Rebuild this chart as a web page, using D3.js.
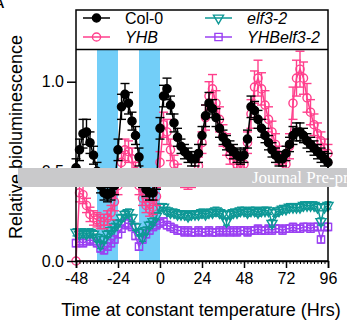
<!DOCTYPE html>
<html>
<head>
<meta charset="utf-8">
<script src="https://cdn.jsdelivr.net/npm/d3@7"></script>
<style>
  body { margin: 0; background: #fff; }
  svg { display: block; font-family: "Liberation Sans", Arial, sans-serif; }
</style>
</head>
<body>
<svg id="chart" width="347" height="322"></svg>
<script>
// hours at constant temperature, every 2 h from -48 to 96
const hours = d3.range(-48, 97, 2)
const xTicks = [-48, -24, 0, 24, 48, 72, 96]
const yTicks = [0, 0.5, 1.0]
const coldBlocks = [[-36, -24], [-12, 0]]

const col0 = [0.52, 0.62, 0.71, 0.72, 0.66, 0.59, 0.50, 0.42, 0.38, 0.37, 0.38, 0.42,
  0.62, 0.86, 0.93, 0.88, 0.78, 0.70, 0.58, 0.45, 0.40, 0.38, 0.38, 0.45,
  0.74, 0.92, 0.96, 0.87, 0.77, 0.69, 0.64, 0.61, 0.59, 0.57, 0.57, 0.60,
  0.70, 0.81, 0.88, 0.85, 0.80, 0.74, 0.69, 0.66, 0.63, 0.61, 0.59, 0.58,
  0.59, 0.68, 0.86, 0.84, 0.79, 0.74, 0.70, 0.66, 0.62, 0.59, 0.57, 0.57,
  0.60, 0.65, 0.70, 0.72, 0.72, 0.70, 0.67, 0.65, 0.63, 0.61, 0.59, 0.57, 0.55]
const col0Err = [0.05, 0.06, 0.08, 0.07, 0.06, 0.05, 0.05, 0.04, 0.04, 0.04, 0.04, 0.05,
  0.06, 0.07, 0.06, 0.06, 0.05, 0.05, 0.05, 0.04, 0.04, 0.04, 0.04, 0.05,
  0.06, 0.06, 0.06, 0.05, 0.05, 0.05, 0.04, 0.04, 0.04, 0.04, 0.04, 0.05,
  0.05, 0.06, 0.06, 0.05, 0.05, 0.05, 0.04, 0.04, 0.04, 0.04, 0.04, 0.04,
  0.04, 0.05, 0.06, 0.05, 0.05, 0.05, 0.04, 0.04, 0.04, 0.04, 0.04, 0.04,
  0.04, 0.04, 0.05, 0.05, 0.05, 0.04, 0.04, 0.04, 0.04, 0.04, 0.04, 0.04, 0.05]

const yhb = [0.00, 0.38, 0.37, 0.31, 0.26, 0.24, 0.23, 0.22, 0.22, 0.24, 0.27, 0.33,
  0.42, 0.55, 0.62, 0.61, 0.57, 0.50, 0.42, 0.35, 0.31, 0.29, 0.30, 0.36,
  0.55, 0.76, 0.72, 0.62, 0.54, 0.49, 0.46, 0.45, 0.44, 0.45, 0.47, 0.53,
  0.66, 0.80, 0.92, 0.96, 0.88, 0.79, 0.70, 0.65, 0.59, 0.56, 0.54, 0.52,
  0.54, 0.66, 0.82, 0.97, 1.02, 0.96, 0.87, 0.79, 0.72, 0.65, 0.59, 0.55,
  0.54, 0.64, 0.88, 1.02, 1.07, 1.02, 0.91, 0.83, 0.76, 0.71, 0.67, 0.63, 0.60]
const yhbErr = [0.00, 0.05, 0.05, 0.04, 0.04, 0.04, 0.04, 0.04, 0.04, 0.04, 0.04, 0.05,
  0.05, 0.06, 0.06, 0.06, 0.06, 0.05, 0.05, 0.04, 0.04, 0.04, 0.04, 0.05,
  0.06, 0.07, 0.07, 0.06, 0.05, 0.05, 0.04, 0.04, 0.04, 0.04, 0.04, 0.05,
  0.06, 0.07, 0.08, 0.08, 0.07, 0.07, 0.06, 0.06, 0.05, 0.05, 0.05, 0.05,
  0.05, 0.06, 0.08, 0.09, 0.10, 0.09, 0.08, 0.07, 0.06, 0.06, 0.05, 0.05,
  0.05, 0.07, 0.09, 0.10, 0.10, 0.09, 0.08, 0.07, 0.06, 0.06, 0.05, 0.05, 0.05]

const elf3 = [0.16, 0.15, 0.16, 0.15, 0.16, 0.15, 0.13, 0.09, 0.12, 0.15, 0.17, 0.19,
  0.21, 0.24, 0.26, 0.27, 0.24, 0.19, 0.16, 0.13, 0.17, 0.20, 0.22, 0.25,
  0.30, 0.30, 0.28, 0.27, 0.27, 0.26, 0.26, 0.26, 0.25, 0.26, 0.26, 0.26,
  0.27, 0.26, 0.27, 0.27, 0.28, 0.27, 0.26, 0.22, 0.26, 0.27, 0.27, 0.28,
  0.28, 0.27, 0.28, 0.28, 0.27, 0.28, 0.28, 0.28, 0.21, 0.27, 0.28, 0.29,
  0.29, 0.30, 0.30, 0.30, 0.30, 0.31, 0.31, 0.31, 0.31, 0.30, 0.22, 0.30, 0.31]
const elf3Err = [0.02, 0.02, 0.02, 0.02, 0.02, 0.02, 0.02, 0.02, 0.02, 0.02, 0.02, 0.02,
  0.02, 0.02, 0.02, 0.02, 0.02, 0.02, 0.02, 0.02, 0.02, 0.02, 0.02, 0.02,
  0.02, 0.02, 0.02, 0.02, 0.02, 0.02, 0.02, 0.02, 0.02, 0.02, 0.02, 0.02,
  0.02, 0.02, 0.02, 0.02, 0.02, 0.02, 0.02, 0.02, 0.02, 0.02, 0.02, 0.02,
  0.02, 0.02, 0.02, 0.02, 0.02, 0.02, 0.02, 0.02, 0.02, 0.02, 0.02, 0.02,
  0.02, 0.02, 0.02, 0.02, 0.02, 0.02, 0.02, 0.02, 0.02, 0.02, 0.02, 0.02, 0.02]

const yhbElf3 = [0.10, 0.11, 0.10, 0.11, 0.12, 0.11, 0.10, 0.07, 0.06, 0.08, 0.10, 0.12,
  0.15, 0.18, 0.21, 0.21, 0.19, 0.14, 0.08, 0.12, 0.15, 0.17, 0.19, 0.20,
  0.21, 0.22, 0.20, 0.19, 0.18, 0.17, 0.17, 0.16, 0.17, 0.16, 0.16, 0.17,
  0.16, 0.16, 0.17, 0.16, 0.16, 0.17, 0.16, 0.17, 0.16, 0.17, 0.16, 0.17,
  0.17, 0.16, 0.17, 0.17, 0.18, 0.17, 0.17, 0.18, 0.17, 0.18, 0.18, 0.17,
  0.18, 0.18, 0.19, 0.18, 0.18, 0.19, 0.19, 0.18, 0.19, 0.19, 0.12, 0.19, 0.19]
const yhbElf3Err = [0.02, 0.02, 0.02, 0.02, 0.02, 0.02, 0.02, 0.02, 0.02, 0.02, 0.02, 0.02,
  0.02, 0.02, 0.03, 0.03, 0.02, 0.02, 0.02, 0.02, 0.02, 0.02, 0.02, 0.02,
  0.02, 0.02, 0.02, 0.02, 0.02, 0.02, 0.02, 0.02, 0.02, 0.02, 0.02, 0.02,
  0.02, 0.02, 0.02, 0.02, 0.02, 0.02, 0.02, 0.02, 0.02, 0.02, 0.02, 0.02,
  0.02, 0.02, 0.02, 0.02, 0.02, 0.02, 0.02, 0.02, 0.02, 0.02, 0.02, 0.02,
  0.02, 0.02, 0.02, 0.02, 0.02, 0.02, 0.02, 0.02, 0.02, 0.02, 0.02, 0.02, 0.02]

const series = [
  { name: 'YHBelf3-2', italic: true, values: yhbElf3, err: yhbElf3Err, color: '#9a40f2', shape: 'square' },
  { name: 'elf3-2', italic: true, values: elf3, err: elf3Err, color: '#0e9896', shape: 'triangle' },
  { name: 'YHB', italic: true, values: yhb, err: yhbErr, color: '#ff3f8c', shape: 'circle' },
  { name: 'Col-0', italic: false, values: col0, err: col0Err, color: '#000000', shape: 'dot' }
]

const width = 347
const height = 322
const margin = { top: 10, right: 19, bottom: 61, left: 76 }

const svg = d3.select('#chart')

const x = d3.scaleLinear().domain([-48, 96]).range([margin.left, width - margin.right])
const y = d3.scaleLinear().domain([0, 1.4]).range([height - margin.bottom, margin.top])
const legendBottom = y(1.18)

// cold / warm blocks
svg.append('g').selectAll('rect')
  .data(coldBlocks)
  .join('rect')
  .attr('x', d => x(d[0]))
  .attr('width', d => x(d[1]) - x(d[0]))
  .attr('y', legendBottom)
  .attr('height', y(0) - legendBottom)
  .attr('fill', '#72cef8')

const symbol = shape => {
  if (shape === 'square') return d3.symbol(d3.symbolSquare, 52)()
  if (shape === 'triangle') return d3.symbol(d3.symbolTriangle, 44)()
  return d3.symbol(d3.symbolCircle, 52)()
}

const drawMarker = (g, s) => {
  g.append('path')
    .attr('d', symbol(s.shape))
    .attr('transform', s.shape === 'triangle' ? 'rotate(180)' : null)
    .attr('fill', s.shape === 'dot' ? s.color : 'none')
    .attr('stroke', s.color)
    .attr('stroke-width', 1.4)
}

series.forEach(s => {
  const pts = hours.map((h, i) => ({ h, v: s.values[i], e: s.err[i] }))
  const g = svg.append('g')

  // error bars
  const eb = g.append('g').attr('stroke', s.color).attr('stroke-width', 1.4)
  pts.filter(p => p.e > 0).forEach(p => {
    const cx = x(p.h)
    const cap = s.shape === 'dot' || s.shape === 'circle' ? 4.5 : 3.5
    eb.append('line').attr('x1', cx).attr('x2', cx).attr('y1', y(p.v - p.e)).attr('y2', y(p.v + p.e))
    eb.append('line').attr('x1', cx - cap).attr('x2', cx + cap).attr('y1', y(p.v + p.e)).attr('y2', y(p.v + p.e))
    eb.append('line').attr('x1', cx - cap).attr('x2', cx + cap).attr('y1', y(p.v - p.e)).attr('y2', y(p.v - p.e))
  })

  g.append('path')
    .datum(pts)
    .attr('fill', 'none')
    .attr('stroke', s.color)
    .attr('stroke-width', 1.5)
    .attr('d', d3.line().x(d => x(d.h)).y(d => y(d.v)))

  g.selectAll('g.mk')
    .data(pts)
    .join('g')
    .attr('class', 'mk')
    .attr('transform', d => `translate(${x(d.h)},${y(d.v)})`)
    .each(function () { drawMarker(d3.select(this), s) })
})

// frame
svg.append('rect')
  .attr('x', margin.left).attr('y', margin.top)
  .attr('width', width - margin.right - margin.left)
  .attr('height', y(0) - margin.top)
  .attr('fill', 'none').attr('stroke', '#000').attr('stroke-width', 1.5)
svg.append('line')
  .attr('x1', margin.left).attr('x2', width - margin.right)
  .attr('y1', legendBottom).attr('y2', legendBottom)
  .attr('stroke', '#000').attr('stroke-width', 1.5)

// axes
const xAxis = svg.append('g')
  .attr('transform', `translate(0,${y(0)})`)
  .call(d3.axisBottom(x).tickValues(xTicks).tickSize(7).tickPadding(5).tickFormat(d => String(d)))
xAxis.call(g => g.select('.domain').attr('stroke-width', 1.5))
xAxis.selectAll('.tick line').attr('stroke-width', 1.5)
xAxis.selectAll('text').attr('font-size', 16).attr('fill', '#000').attr('font-family', 'Liberation Sans, Arial, sans-serif')

svg.append('g')
  .attr('transform', `translate(0,${y(0)})`)
  .call(d3.axisBottom(x).tickValues(d3.range(-48, 97, 2)).tickSize(3).tickFormat(''))
  .call(g => g.select('.domain').remove())

const yAxis = svg.append('g')
  .attr('transform', `translate(${margin.left},0)`)
  .call(d3.axisLeft(y).tickValues(yTicks).tickSize(9).tickPadding(3).tickFormat(d3.format('.1f')))
yAxis.call(g => g.select('.domain').remove())
yAxis.selectAll('.tick line').attr('stroke-width', 1.5)
yAxis.selectAll('text').attr('font-size', 16).attr('fill', '#000').attr('font-family', 'Liberation Sans, Arial, sans-serif')

// titles
svg.append('text')
  .attr('x', 201).attr('y', 316)
  .attr('text-anchor', 'middle')
  .attr('font-size', 18)
  .text('Time at constant temperature (Hrs)')

svg.append('text')
  .attr('transform', 'translate(22,137) rotate(-90)')
  .attr('text-anchor', 'middle')
  .attr('font-size', 18)
  .text('Relative bioluminescence')

svg.append('text')
  .attr('x', -5).attr('y', 8)
  .attr('font-size', 13).attr('font-weight', 'bold')
  .text('A')

// legend
const legendItems = [
  { s: series[3], lx: 83, ly: 18 },
  { s: series[2], lx: 83, ly: 37 },
  { s: series[1], lx: 205, ly: 18 },
  { s: series[0], lx: 205, ly: 37 }
]
legendItems.forEach(({ s, lx, ly }) => {
  const g = svg.append('g')
  g.append('line').attr('x1', lx).attr('x2', lx + 27).attr('y1', ly).attr('y2', ly)
    .attr('stroke', s.color).attr('stroke-width', 1.5)
  drawMarker(g.append('g').attr('transform', `translate(${lx + 13.5},${ly})`), s)
  g.append('text')
    .attr('x', lx + 42).attr('y', ly + 6)
    .attr('font-size', 16)
    .attr('font-style', s.italic ? 'italic' : 'normal')
    .text(s.name)
})

// watermark band
svg.append('rect')
  .attr('x', 18).attr('y', 168).attr('width', 329).attr('height', 19)
  .attr('fill', '#c9c9cb')
svg.append('text')
  .attr('x', 252).attr('y', 183)
  .attr('font-family', 'Liberation Serif, serif')
  .attr('font-size', 17)
  .attr('fill', '#fff')
  .text('Journal Pre-proof')
</script>
</body>
</html>
